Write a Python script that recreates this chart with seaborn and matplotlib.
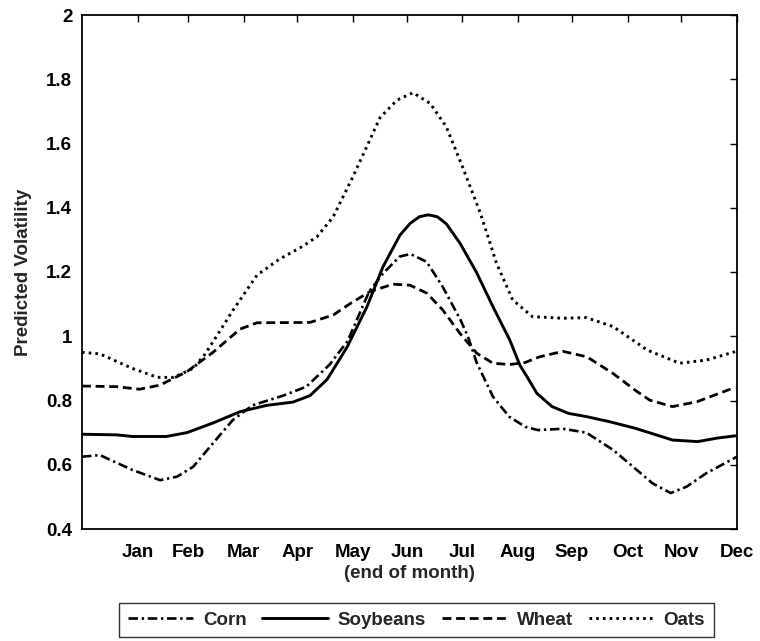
import numpy as np
import pandas as pd
import matplotlib
matplotlib.use("Agg")
import matplotlib.pyplot as plt
import seaborn as sns

# ---- data (day of year, predicted volatility) ----
corn_day = [0, 10, 28, 43.5, 53, 62, 73, 84, 95, 112, 125, 138, 148, 160, 168, 177, 183, 192, 201, 211, 215, 220, 229, 238, 247, 254, 268, 281, 296, 307, 318, 328, 337, 348, 365]
corn_val = [0.625, 0.63, 0.584, 0.552, 0.563, 0.594, 0.667, 0.739, 0.785, 0.815, 0.843, 0.912, 0.985, 1.139, 1.197, 1.248, 1.256, 1.232, 1.154, 1.05, 1.0, 0.917, 0.812, 0.75, 0.718, 0.708, 0.712, 0.70, 0.646, 0.594, 0.542, 0.512, 0.532, 0.574, 0.625]

soy_day = [0, 19.5, 28, 47, 58.5, 73, 88, 103, 117.5, 127, 136.5, 147.6, 158.8, 167.7, 177.2, 183, 188, 193, 198, 203, 210.6, 220, 229, 238.4, 244, 248, 253.5, 262, 271, 281, 294, 308, 316, 329, 343, 354, 364]
soy_val = [0.695, 0.693, 0.688, 0.688, 0.70, 0.73, 0.765, 0.785, 0.795, 0.815, 0.865, 0.965, 1.092, 1.216, 1.315, 1.352, 1.372, 1.378, 1.372, 1.35, 1.29, 1.197, 1.092, 0.988, 0.91, 0.874, 0.822, 0.781, 0.76, 0.75, 0.734, 0.714, 0.70, 0.677, 0.672, 0.683, 0.69]

wheat_day = [0, 19.5, 32, 43.5, 58.5, 73, 88, 97.5, 127, 140, 149, 160.4, 173.3, 182.7, 192.2, 201, 210.6, 220, 229, 238.4, 246.8, 255, 268, 281.3, 296, 308, 316.4, 329, 342.6, 364]
wheat_val = [0.845, 0.843, 0.835, 0.848, 0.89, 0.95, 1.022, 1.042, 1.043, 1.066, 1.100, 1.139, 1.162, 1.159, 1.134, 1.082, 1.009, 0.947, 0.916, 0.912, 0.918, 0.936, 0.953, 0.936, 0.884, 0.833, 0.801, 0.781, 0.796, 0.841]

oats_day = [0, 10, 28, 42, 51, 62, 68, 75, 84, 97.5, 110, 123, 131, 140, 151, 160.4, 166, 175.5, 184.4, 194, 203, 212, 222, 231, 240, 251, 268, 281, 296, 315, 333, 348, 364]
oats_val = [0.95, 0.945, 0.90, 0.872, 0.872, 0.90, 0.94, 1.00, 1.08, 1.19, 1.24, 1.28, 1.31, 1.372, 1.497, 1.611, 1.68, 1.735, 1.758, 1.725, 1.652, 1.528, 1.383, 1.227, 1.113, 1.061, 1.056, 1.058, 1.03, 0.957, 0.916, 0.926, 0.952]

series_names = ["Corn", "Soybeans", "Wheat", "Oats"]
month_ticks = [31, 59, 90, 120, 151, 181, 212, 243, 273, 304, 334, 365]
month_labels = ["Jan", "Feb", "Mar", "Apr", "May", "Jun", "Jul", "Aug", "Sep", "Oct", "Nov", "Dec"]
y_ticks = [0.4, 0.6, 0.8, 1.0, 1.2, 1.4, 1.6, 1.8, 2.0]
y_labels = ["0.4", "0.6", "0.8", "1", "1.2", "1.4", "1.6", "1.8", "2"]

sns.set_style("white")
plt.rcParams["font.family"] = ["Liberation Sans", "DejaVu Sans"]
plt.rcParams["font.weight"] = "bold"

FS = 13.5
fig = plt.figure(figsize=(7.6, 6.41), dpi=100)
ax = fig.add_axes([82/760, 1-529/641, 655/760, 514/641])

styles = {
    "Corn": dict(linestyle=(0, (3.6, 1.4, 0.9, 1.4)), linewidth=1.9, dash_capstyle="butt"),
    "Soybeans": dict(linestyle="-", linewidth=2.1),
    "Wheat": dict(linestyle=(0, (3.2, 1.7)), linewidth=2.0, dash_capstyle="butt"),
    "Oats": dict(linestyle=(0, (0.9, 1.4)), linewidth=2.1, dash_capstyle="butt"),
}
data = {
    "Corn": (corn_day, corn_val),
    "Soybeans": (soy_day, soy_val),
    "Wheat": (wheat_day, wheat_val),
    "Oats": (oats_day, oats_val),
}
for name in series_names:
    d, v = data[name]
    df = pd.DataFrame({"day": d, "vol": v})
    sns.lineplot(data=df, x="day", y="vol", ax=ax, color="black",
                 label=name, legend=False, sort=True, **styles[name])

ax.set_xlim(0, 365)
ax.set_ylim(0.4, 2.0)
ax.set_xticks(month_ticks)
ax.set_xticklabels(month_labels)
ax.set_yticks(y_ticks)
ax.set_yticklabels(y_labels)
ax.tick_params(axis="y", direction="in", length=5, width=1, colors="black",
               labelsize=FS, right=True, labelright=False, pad=7)
ax.tick_params(axis="x", direction="in", length=5, width=1, colors="black",
               labelsize=FS, top=True, labeltop=False, pad=11)
for lab in ax.get_xticklabels() + ax.get_yticklabels():
    lab.set_fontweight("bold")
ax.set_xlabel("(end of month)", fontsize=FS, fontweight="bold", labelpad=3)
ax.set_ylabel("Predicted Volatility", fontsize=FS, fontweight="bold", labelpad=10)
for s in ax.spines.values():
    s.set_color("black")
    s.set_linewidth(1.3)

handles, labels = ax.get_legend_handles_labels()
leg = fig.legend(handles, labels, loc="center", bbox_to_anchor=(0.548, 0.032), ncol=4,
                 frameon=True, fancybox=False, edgecolor="black", handlelength=3.5,
                 handletextpad=0.5, columnspacing=0.85, borderpad=0.45,
                 prop=dict(size=FS, weight="bold"))
leg.get_frame().set_linewidth(1.0)

fig.savefig("out.png", dpi=100)
